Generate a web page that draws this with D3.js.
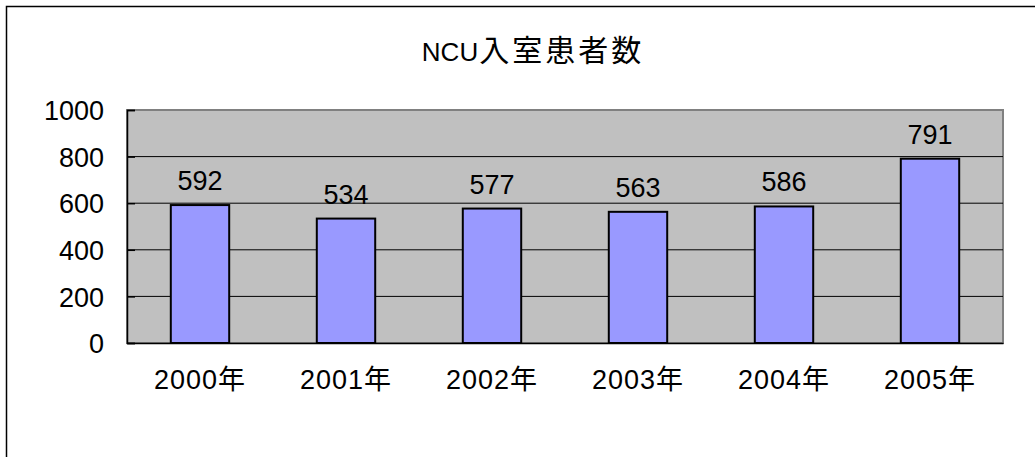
<!DOCTYPE html>
<html>
<head>
<meta charset="utf-8">
<script src="https://cdn.jsdelivr.net/npm/d3@7"></script>
<style>
  html, body { margin: 0; padding: 0; background: #fff; }
  svg { display: block; }
  text { font-family: "Liberation Sans", Arial, "Noto Sans CJK JP", sans-serif; fill: #000; }
</style>
</head>
<body>
<svg id="chart" width="1035" height="457"></svg>
<script>
// NCU admissions per year
const title = "NCU入室患者数";
const years = ["2000年", "2001年", "2002年", "2003年", "2004年", "2005年"];
const patients = [592, 534, 577, 563, 586, 791];
const yTicks = [0, 200, 400, 600, 800, 1000];

const svg = d3.select("#chart");

// outer chart frame
svg.append("rect")
  .attr("x", 6.5).attr("y", 6.5)
  .attr("width", 1040).attr("height", 470)
  .attr("fill", "#fff").attr("stroke", "#000").attr("stroke-width", 1.5);

const plot = { left: 127, right: 1003, top: 110, bottom: 343 };

const x = d3.scaleBand()
  .domain(years)
  .range([plot.left, plot.right])
  .paddingInner(0.6)
  .paddingOuter(0.3);

const y = d3.scaleLinear()
  .domain([0, 1000])
  .range([plot.bottom, plot.top]);

// plot area background with grey border
svg.append("rect")
  .attr("x", plot.left).attr("y", plot.top)
  .attr("width", plot.right - plot.left).attr("height", plot.bottom - plot.top)
  .attr("fill", "#c0c0c0").attr("stroke", "#808080").attr("stroke-width", 2);

// horizontal gridlines
svg.append("g")
  .selectAll("line")
  .data(yTicks.filter(d => d > 0 && d < 1000))
  .join("line")
  .attr("x1", plot.left).attr("x2", plot.right)
  .attr("y1", d => y(d)).attr("y2", d => y(d))
  .attr("stroke", "#000").attr("stroke-width", 1);

// bars
svg.append("g")
  .selectAll("rect")
  .data(patients)
  .join("rect")
  .attr("x", (d, i) => x(years[i]))
  .attr("y", d => y(d))
  .attr("width", x.bandwidth())
  .attr("height", d => y(0) - y(d))
  .attr("fill", "#9999ff")
  .attr("stroke", "#000")
  .attr("stroke-width", 2);

// value labels
svg.append("g")
  .selectAll("text")
  .data(patients)
  .join("text")
  .attr("x", (d, i) => x(years[i]) + x.bandwidth() / 2)
  .attr("y", d => y(d) - 15)
  .attr("text-anchor", "middle")
  .attr("font-size", 27)
  .text(d => d);

// y axis
const yAxis = d3.axisLeft(y)
  .tickValues(yTicks)
  .tickSize(-8)
  .tickPadding(23)
  .tickFormat(d3.format("d"));
const gy = svg.append("g")
  .attr("transform", `translate(${plot.left},0)`)
  .call(yAxis);
gy.select(".domain").attr("stroke", "#000").attr("stroke-width", 1.5);
gy.selectAll(".tick line").attr("stroke", "#000").attr("stroke-width", 1.5);
gy.selectAll(".tick text")
  .attr("font-size", 27)
  .attr("font-family", "'Liberation Sans', Arial, sans-serif")
  .attr("fill", "#000")
  .attr("dy", "0.36em");

// x axis
const xAxis = d3.axisBottom(x).tickSize(0).tickPadding(27);
const gx = svg.append("g")
  .attr("transform", `translate(0,${plot.bottom})`)
  .call(xAxis);
gx.select(".domain").attr("stroke", "#000").attr("stroke-width", 1.5);
gx.selectAll(".tick text")
  .attr("font-size", 27)
  .attr("letter-spacing", 1)
  .attr("font-family", "'Liberation Sans', Arial, 'Noto Sans CJK JP', sans-serif")
  .attr("fill", "#000");

// chart title: latin part tight, CJK part slightly larger
const titleParts = title.match(/^([A-Za-z0-9]*)(.*)$/).slice(1);
const titleText = svg.append("text")
  .attr("x", 533)
  .attr("y", 61)
  .attr("text-anchor", "middle");
titleText.append("tspan")
  .attr("font-size", 26)
  .text(titleParts[0]);
titleText.append("tspan")
  .attr("font-size", 30)
  .attr("letter-spacing", 3)
  .attr("dx", 1)
  .text(titleParts[1]);
</script>
</body>
</html>
